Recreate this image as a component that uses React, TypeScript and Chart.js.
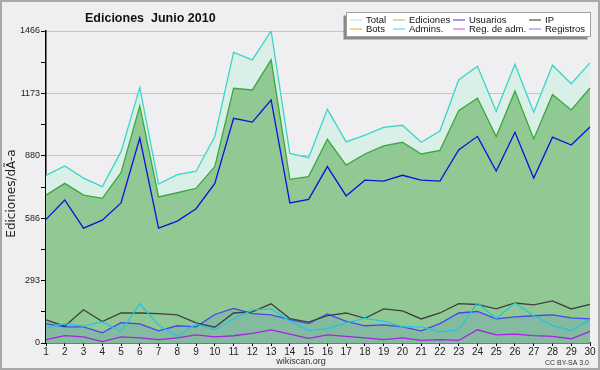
import React, { useEffect, useRef } from "react";
import { Chart, registerables } from "chart.js";

Chart.register(...registerables);

const days = ["1","2","3","4","5","6","7","8","9","10","11","12","13","14","15","16","17","18","19","20","21","22","23","24","25","26","27","28","29","30"];
const total = [788,832,775,735,899,1201,747,791,807,970,1366,1330,1466,891,871,1098,945,977,1013,1023,943,996,1236,1300,1089,1310,1084,1305,1218,1316];
const ediciones = [695,750,695,680,800,1114,686,706,727,829,1197,1189,1330,769,782,957,836,888,926,943,888,905,1092,1150,970,1184,959,1167,1095,1198];
const usuarios = [581,672,540,577,658,963,540,573,631,750,1056,1038,1142,658,675,829,691,765,761,788,765,761,907,971,808,990,775,967,930,1015];
const ip = [109,79,156,101,141,141,138,132,95,74,141,146,184,115,98,129,141,116,160,151,113,141,185,181,160,188,179,198,160,181];
const registros = [91,76,76,48,95,90,57,81,76,134,163,138,132,110,91,137,102,81,85,76,57,91,141,148,113,123,128,132,118,113];
const admins = [70,91,79,99,54,185,84,32,90,62,113,156,160,103,59,67,95,116,103,76,76,52,63,188,115,188,128,82,59,110];
const regAdm = [16,35,29,7,29,24,16,24,38,29,34,45,62,42,22,38,31,24,16,24,12,16,12,62,38,42,35,31,20,55];
const bots: number[] = [];

const yMajorTicks = [0, 293, 586, 880, 1173, 1466];

const legendLabels = ["Total", "Ediciones", "Usuarios", "IP", "Bots", "Admins.", "Reg. de adm.", "Registros"];
const legendColors = ["#a8e6dc", "#80d080", "#3a3ae0", "#303030", "#f0a030", "#40d0e0", "#d040f0", "#7878f8"];

const SANS = "'Liberation Sans', Arial, sans-serif";
const DEJAVU = "'DejaVu Sans', sans-serif";

const decorPlugin = {
  id: "decor",
  beforeDraw(chart: any) {
    const ctx = chart.ctx;
    ctx.save();
    ctx.fillStyle = "#efeff1";
    ctx.fillRect(0, 0, chart.width, chart.height);
    ctx.restore();
  },
  afterDraw(chart: any) {
    const ctx = chart.ctx;
    ctx.save();
    // outer border
    ctx.strokeStyle = "#a8a8a8";
    ctx.lineWidth = 2;
    ctx.strokeRect(1, 1, chart.width - 2, chart.height - 2);

    // title
    ctx.fillStyle = "#111";
    ctx.font = `bold 12.5px ${SANS}`;
    ctx.textAlign = "left";
    ctx.textBaseline = "alphabetic";
    ctx.fillText("Ediciones  Junio 2010", 85, 21.5);

    // y-axis title
    ctx.save();
    ctx.translate(12, 193.5);
    ctx.rotate(-Math.PI / 2);
    ctx.font = `12px ${DEJAVU}`;
    ctx.textAlign = "center";
    ctx.textBaseline = "middle";
    ctx.fillStyle = "#222";
    ctx.fillText("Ediciones/dÃ-a", 0, 0);
    ctx.restore();

    // footer
    ctx.font = `9px ${SANS}`;
    ctx.fillStyle = "#333";
    ctx.textAlign = "center";
    ctx.textBaseline = "alphabetic";
    ctx.fillText("wikiscan.org", 301, 364);
    ctx.font = `7px ${SANS}`;
    ctx.textAlign = "right";
    ctx.fillText("CC BY-SA 3.0", 589, 364.5);

    // legend
    const bx = 346.5, by = 12.5, bw = 244, bh = 24;
    ctx.fillStyle = "#8a8a8a";
    ctx.fillRect(bx - 3, by + 3, bw, bh);
    ctx.fillStyle = "#ffffff";
    ctx.fillRect(bx, by, bw, bh);
    ctx.strokeStyle = "#a0a0a0";
    ctx.lineWidth = 1;
    ctx.strokeRect(bx, by, bw, bh);
    const colX = [350, 393, 453, 529];
    const rowY = [19.5, 28.5];
    ctx.font = `9.5px ${SANS}`;
    ctx.textAlign = "left";
    ctx.textBaseline = "middle";
    legendLabels.forEach((lab, i) => {
      const c = i % 4, r = Math.floor(i / 4);
      ctx.strokeStyle = legendColors[i];
      ctx.lineWidth = 1;
      ctx.beginPath();
      ctx.moveTo(colX[c], rowY[r] + 0.5);
      ctx.lineTo(colX[c] + 12, rowY[r] + 0.5);
      ctx.stroke();
      ctx.fillStyle = "#111";
      ctx.fillText(lab, colX[c] + 16, rowY[r] + 0.5);
    });
    ctx.restore();
  },
};

export default function App() {
  const ref = useRef<HTMLCanvasElement | null>(null);
  useEffect(() => {
    if (!ref.current) return;
    const line = (label: string, data: number[], color: string, order: number, extra: any = {}) => ({
      label,
      data,
      borderColor: color,
      borderWidth: 1.3,
      pointRadius: 0,
      tension: 0,
      fill: false,
      order,
      ...extra,
    });
    const chart = new Chart(ref.current, {
      type: "line",
      data: {
        labels: days,
        datasets: [
          line("Total", total, "#3ad6c8", 10, { fill: "origin", backgroundColor: "#d9efe8" }),
          line("Ediciones", ediciones, "#3aa83a", 9, { fill: "origin", backgroundColor: "#90c994" }),
          line("Usuarios", usuarios, "#1010dc", 8),
          line("Bots", bots, "#f0a030", 7),
          line("Registros", registros, "#4646f4", 6, { fill: "origin", backgroundColor: "rgba(70,100,220,0.15)" }),
          line("IP", ip, "#404040", 5),
          line("Admins.", admins, "#22c6e2", 4),
          line("Reg. de adm.", regAdm, "#a424e0", 3),
        ],
      },
      options: {
        responsive: false,
        animation: false,
        layout: { padding: { left: 0, top: 31, right: 10, bottom: 0 } },
        plugins: { legend: { display: false }, tooltip: { enabled: false }, title: { display: false } },
        scales: {
          x: {
            offset: false,
            afterFit: (s: any) => { s.height = 27; },
            grid: { drawOnChartArea: false, color: "#000", tickLength: 3 },
            border: { color: "#000", width: 1.5 },
            ticks: { color: "#222", font: { family: "Liberation Sans", size: 10 }, padding: 0, maxRotation: 0, autoSkip: false },
          },
          y: {
            min: 0,
            max: 1466,
            z: 1,
            afterFit: (s: any) => { s.width = 46; },
            afterBuildTicks: (s: any) => {
              const t: any[] = [];
              for (let i = 0; i < yMajorTicks.length; i++) {
                t.push({ value: yMajorTicks[i] });
                if (i < yMajorTicks.length - 1) t.push({ value: (yMajorTicks[i] + yMajorTicks[i + 1]) / 2 });
              }
              s.ticks = t;
            },
            grid: {
              color: (c: any) => (c.index % 2 === 0 && c.index > 0 ? "rgba(120,120,120,0.35)" : "transparent"),
              tickColor: "#000",
              tickLength: 5,
            },
            border: { color: "#000", width: 1.5 },
            ticks: {
              color: "#222",
              font: { family: "Liberation Sans", size: 9 },
              padding: 1,
              callback: (v: any, i: number) => (i % 2 === 0 ? String(Math.round(v)) : ""),
            },
          },
        },
      },
      plugins: [decorPlugin],
    } as any);
    return () => chart.destroy();
  }, []);
  return (
    <div style={{ position: "absolute", left: 0, top: 0, width: 600, height: 370 }}>
      <canvas ref={ref} width={600} height={370} style={{ display: "block", width: 600, height: 370 }} />
    </div>
  );
}
